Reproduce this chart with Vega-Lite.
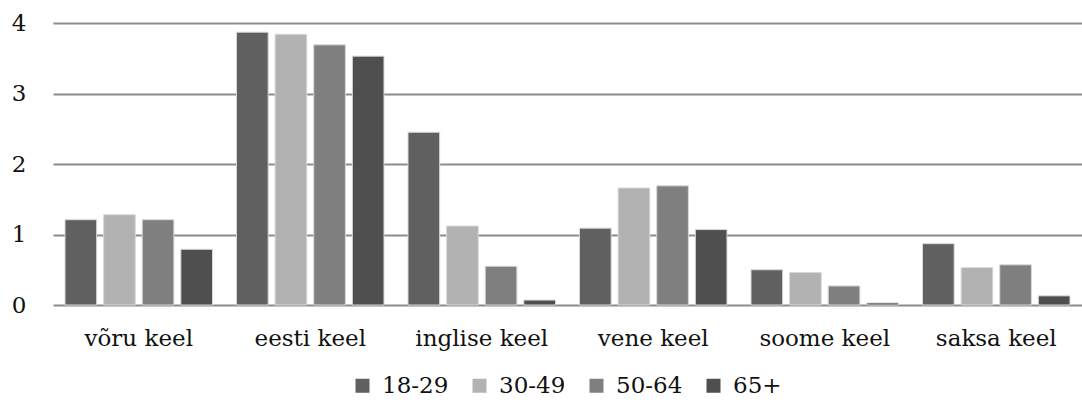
{
  "$schema": "https://vega.github.io/schema/vega-lite/v6.json",
  "width": 1029,
  "height": 282,
  "autosize": {"type": "none"},
  "padding": {"left": 53, "top": 23, "right": 0, "bottom": 103},
  "background": "white",
  "data": {
    "values": [
      {"keel": "võru keel", "vanus": "18-29", "v": 1.21},
      {"keel": "võru keel", "vanus": "30-49", "v": 1.28},
      {"keel": "võru keel", "vanus": "50-64", "v": 1.21},
      {"keel": "võru keel", "vanus": "65+", "v": 0.79},
      {"keel": "eesti keel", "vanus": "18-29", "v": 3.87},
      {"keel": "eesti keel", "vanus": "30-49", "v": 3.84},
      {"keel": "eesti keel", "vanus": "50-64", "v": 3.69},
      {"keel": "eesti keel", "vanus": "65+", "v": 3.53},
      {"keel": "inglise keel", "vanus": "18-29", "v": 2.45},
      {"keel": "inglise keel", "vanus": "30-49", "v": 1.12},
      {"keel": "inglise keel", "vanus": "50-64", "v": 0.55},
      {"keel": "inglise keel", "vanus": "65+", "v": 0.07},
      {"keel": "vene keel", "vanus": "18-29", "v": 1.09},
      {"keel": "vene keel", "vanus": "30-49", "v": 1.66},
      {"keel": "vene keel", "vanus": "50-64", "v": 1.69},
      {"keel": "vene keel", "vanus": "65+", "v": 1.07},
      {"keel": "soome keel", "vanus": "18-29", "v": 0.5},
      {"keel": "soome keel", "vanus": "30-49", "v": 0.46},
      {"keel": "soome keel", "vanus": "50-64", "v": 0.27},
      {"keel": "soome keel", "vanus": "65+", "v": 0.03},
      {"keel": "saksa keel", "vanus": "18-29", "v": 0.87},
      {"keel": "saksa keel", "vanus": "30-49", "v": 0.53},
      {"keel": "saksa keel", "vanus": "50-64", "v": 0.57},
      {"keel": "saksa keel", "vanus": "65+", "v": 0.13}
    ]
  },
  "config": {
    "view": {"stroke": null},
    "font": "DejaVu Serif"
  },
  "mark": {"type": "bar", "stroke": "#d8d8d8", "strokeWidth": 1},
  "encoding": {
    "x": {
      "field": "keel",
      "type": "nominal",
      "sort": null,
      "title": null,
      "scale": {"paddingInner": 0.14, "paddingOuter": 0.07},
      "axis": {
        "labelAngle": 0,
        "ticks": false,
        "domain": false,
        "labelFontSize": 23,
        "labelColor": "#111",
        "labelPadding": 22,
        "labelFont": "DejaVu Serif"
      }
    },
    "xOffset": {
      "field": "vanus",
      "type": "nominal",
      "sort": ["18-29", "30-49", "50-64", "65+"],
      "scale": {"paddingInner": 0.18}
    },
    "y": {
      "field": "v",
      "type": "quantitative",
      "title": null,
      "scale": {"domain": [0, 4]},
      "axis": {
        "values": [0, 1, 2, 3, 4],
        "ticks": false,
        "domain": false,
        "gridColor": "#8c8c8c",
        "gridWidth": 2,
        "gridOpacity": 1,
        "labelFontSize": 23,
        "labelColor": "#111",
        "labelPadding": 27,
        "labelFont": "DejaVu Serif"
      }
    },
    "color": {
      "field": "vanus",
      "type": "nominal",
      "sort": ["18-29", "30-49", "50-64", "65+"],
      "scale": {
        "domain": ["18-29", "30-49", "50-64", "65+"],
        "range": ["#606060", "#b2b2b2", "#7f7f7f", "#4f4f4f"]
      },
      "legend": {
        "orient": "none",
        "legendX": 298,
        "legendY": 351,
        "direction": "horizontal",
        "title": null,
        "symbolType": "square",
        "symbolSize": 196,
        "symbolStrokeWidth": 0,
        "symbolOffset": 0,
        "labelOffset": 8,
        "labelFontSize": 23,
        "labelColor": "#111",
        "labelFont": "DejaVu Serif",
        "columnPadding": 19
      }
    }
  }
}
